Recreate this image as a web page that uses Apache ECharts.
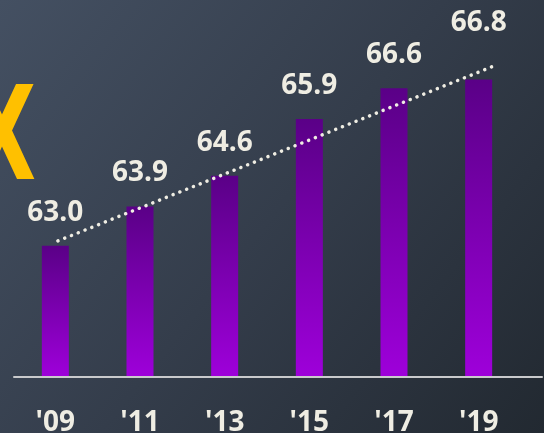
<!DOCTYPE html>
<html>
<head>
<meta charset="utf-8">
<script src="https://cdn.jsdelivr.net/npm/echarts@6/dist/echarts.min.js"></script>
<style>html,body{margin:0;padding:0;}#c{width:544px;height:433px;}</style>
</head>
<body>
<div id="c"></div>
<script>
const categories = ["'09", "'11", "'13", "'15", "'17", "'19"];
const values = [63.0, 63.9, 64.6, 65.9, 66.6, 66.8];
const trendX = [0.03, 5.18];
const trendY = [63.11, 67.11];

const chart = echarts.init(document.getElementById('c'), null, {renderer: 'canvas'});
const txt = '#efede3';
chart.setOption({
  backgroundColor: {
    type: 'linear', x: 0, y: 0, x2: 1, y2: 1,
    colorStops: [{offset: 0, color: '#445062'}, {offset: 0.5, color: '#343d4b'}, {offset: 1, color: '#222931'}]
  },
  animation: false,
  graphic: [{
    type: 'text', left: -32, top: 80, scaleX: 0.68,
    style: {
      text: 'X', fontSize: 130, fontWeight: 'bold', fontFamily: 'DejaVu Sans',
      fill: '#ffc000', shadowColor: 'rgba(0,0,0,0.55)', shadowBlur: 6, shadowOffsetX: 4, shadowOffsetY: 5
    }
  }],
  grid: [
    {left: 13, right: 23, top: 27, bottom: 56, containLabel: false, outerBoundsMode: 'none'},
    {left: 14, right: 2, top: 27, bottom: 56, containLabel: false, outerBoundsMode: 'none'}
  ],
  xAxis: [{
    type: 'category', data: categories, gridIndex: 0,
    axisLine: {show: false}, axisTick: {show: false},
    axisLabel: {color: txt, fontSize: 28, fontWeight: 'bold', fontFamily: 'Open Sans', margin: 32}
  }, {
    type: 'value', min: -0.5, max: 5.5, show: false, gridIndex: 0
  }, {
    type: 'category', data: categories, gridIndex: 1, z: 5,
    axisLine: {show: true, lineStyle: {color: '#c9cacc', width: 2}},
    axisTick: {show: false}, axisLabel: {show: false}
  }],
  yAxis: [
    {type: 'value', min: 60, max: 68, show: false, gridIndex: 0},
    {type: 'value', min: 60, max: 68, show: false, gridIndex: 1}
  ],
  series: [{
    type: 'bar', xAxisIndex: 0, yAxisIndex: 0, barWidth: 27,
    data: values.map((v, i) => i === values.length - 1 ? {value: v, label: {offset: [0, -23]}} : v),
    itemStyle: {color: {type: 'linear', x: 0, y: 0, x2: 0, y2: 1,
      colorStops: [{offset: 0, color: '#5a0087'}, {offset: 1, color: '#9e00da'}]}},
    label: {show: true, position: 'top', distance: 19, color: txt, fontSize: 28,
      fontWeight: 'bold', fontFamily: 'Open Sans', formatter: p => p.value.toFixed(1)}
  }, {
    type: 'line', xAxisIndex: 1, yAxisIndex: 0, data: trendX.map((x, i) => [x, trendY[i]]),
    symbol: 'none', silent: true, clip: false,
    lineStyle: {color: txt, width: 3.5, type: [0.1, 7.2], cap: 'round'}
  }]
});
</script>
</body>
</html>
